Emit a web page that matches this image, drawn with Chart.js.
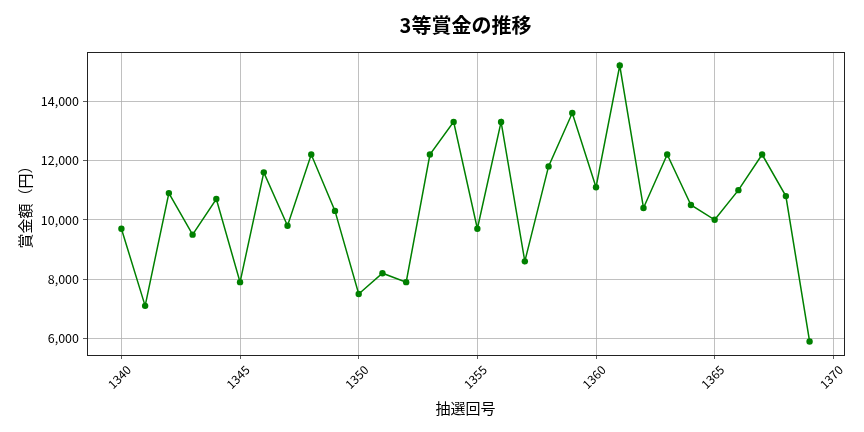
<!DOCTYPE html>
<html>
<head>
<meta charset="utf-8">
<script src="https://cdn.jsdelivr.net/npm/chart.js@4/dist/chart.umd.min.js"></script>
<style>
html,body{margin:0;padding:0;background:#fff;}
#wrap{width:864px;height:432px;}
</style>
</head>
<body>
<div id="wrap"><canvas id="c" width="864" height="432"></canvas></div>
<script>
const drawNumbers = [1340,1341,1342,1343,1344,1345,1346,1347,1348,1349,1350,1351,1352,1353,1354,1355,1356,1357,1358,1359,1360,1361,1362,1363,1364,1365,1366,1367,1368,1369];
const prizeValues = [9700,7100,10900,9500,10700,7900,11600,9800,12200,10300,7500,8200,7900,12200,13300,9700,13300,8600,11800,13600,11100,15200,10400,12200,10500,10000,11000,12200,10800,5900];
const xTickValues = [1340,1345,1350,1355,1360,1365,1370];
const yTickValues = [6000,8000,10000,12000,14000];
const titleText = '3等賞金の推移';
const xLabelText = '抽選回号';
const yLabelText = '賞金額（円）';

const FONT = '"Noto Sans CJK JP", "Noto Sans", sans-serif';

const points = drawNumbers.map((d, i) => ({x: d, y: prizeValues[i]}));

const extras = {
  id: 'extras',
  afterDraw(chart) {
    const ctx = chart.ctx;
    const a = chart.chartArea;
    const xs = chart.scales.x;
    ctx.save();
    // frame
    ctx.strokeStyle = '#222';
    ctx.lineWidth = 1;
    ctx.strokeRect(Math.round(a.left) + 0.5, Math.round(a.top) + 0.5, Math.round(a.right - a.left), Math.round(a.bottom - a.top));
    // title
    ctx.fillStyle = '#000';
    ctx.textAlign = 'center';
    ctx.textBaseline = 'middle';
    ctx.font = 'bold 20px ' + FONT;
    ctx.fillText(titleText, (a.left + a.right) / 2, 25);
    // x tick labels rotated 45
    ctx.fillStyle = '#000';
    ctx.font = '12px ' + FONT;
    xTickValues.forEach(v => {
      const px = xs.getPixelForValue(v);
      ctx.save();
      ctx.translate(px - 2, a.bottom + 22);
      ctx.rotate(-Math.PI / 4);
      ctx.fillText(String(v), 0, 0);
      ctx.restore();
    });
    // axis titles
    ctx.fillStyle = '#000';
    ctx.font = '15px ' + FONT;
    ctx.fillText(xLabelText, (a.left + a.right) / 2, 408);
    ctx.save();
    ctx.translate(25, (a.top + a.bottom) / 2);
    ctx.rotate(-Math.PI / 2);
    ctx.fillText(yLabelText, 0, 0);
    ctx.restore();
    ctx.restore();
  }
};

new Chart(document.getElementById('c'), {
  type: 'line',
  data: {
    datasets: [{
      data: points,
      borderColor: '#008000',
      backgroundColor: '#008000',
      borderWidth: 1.5,
      pointRadius: 3.2,
      pointBorderWidth: 0,
      pointBackgroundColor: '#008000',
      tension: 0,
      fill: false
    }]
  },
  options: {
    responsive: false,
    animation: false,
    devicePixelRatio: 1,
    layout: {padding: {left: 0, right: 20, top: 52, bottom: 0}},
    plugins: {
      legend: {display: false},
      tooltip: {enabled: false},
      title: {display: false}
    },
    scales: {
      x: {
        type: 'linear',
        min: 1338.55,
        max: 1370.45,
        afterBuildTicks(scale) { scale.ticks = xTickValues.map(v => ({value: v})); },
        afterFit(scale) { scale.height = 77; },
        grid: {color: '#b0b0b0', lineWidth: 0.8, tickColor: '#333', tickLength: 4, drawTicks: true},
        border: {display: true, color: '#222', width: 1},
        ticks: {display: false}
      },
      y: {
        type: 'linear',
        min: 5444,
        max: 15656,
        afterBuildTicks(scale) { scale.ticks = yTickValues.map(v => ({value: v})); },
        afterFit(scale) { scale.width = 87; },
        grid: {color: '#b0b0b0', lineWidth: 0.8, tickColor: '#333', tickLength: 4, drawTicks: true},
        border: {display: true, color: '#222', width: 1},
        ticks: {
          color: '#000',
          padding: 4,
          font: {family: FONT, size: 12.5},
          callback: v => v.toLocaleString('en-US')
        }
      }
    }
  },
  plugins: [extras]
});
</script>
</body>
</html>
